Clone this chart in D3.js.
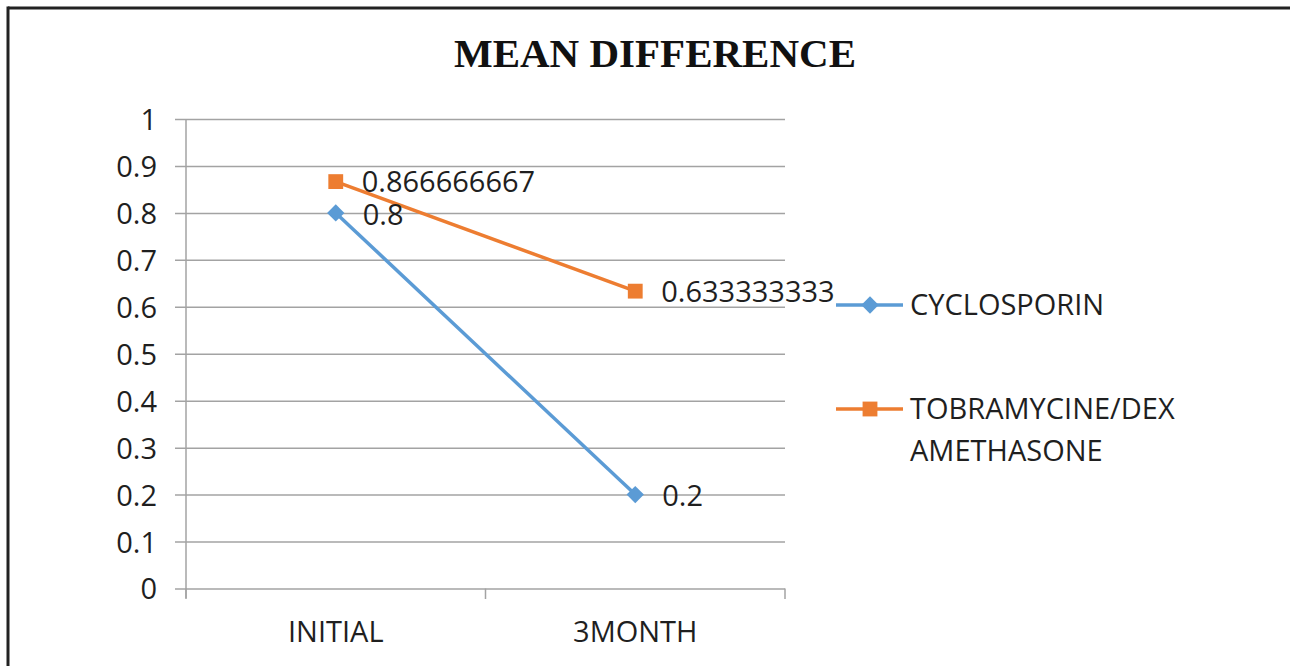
<!DOCTYPE html>
<html>
<head>
<meta charset="utf-8">
<script src="https://cdn.jsdelivr.net/npm/d3@7"></script>
<style>
  html, body { margin: 0; padding: 0; background: #fff; }
  svg { display: block; }
</style>
</head>
<body>
<svg id="chart" width="1290" height="666"></svg>
<script>
const categories = ["INITIAL", "3MONTH"];
const cyclosporin = [0.8, 0.2];
const tobramycine = [0.866666667, 0.633333333];
const cyclosporinLabels = ["0.8", "0.2"];
const tobramycineLabels = ["0.866666667", "0.633333333"];
const yTicks = [0, 0.1, 0.2, 0.3, 0.4, 0.5, 0.6, 0.7, 0.8, 0.9, 1];
const yTickLabels = ["0", "0.1", "0.2", "0.3", "0.4", "0.5", "0.6", "0.7", "0.8", "0.9", "1"];
const seriesNames = ["CYCLOSPORIN", "TOBRAMYCINE/DEX|AMETHASONE"];

const svg = d3.select("#chart");
const FONT = "'Open Sans', sans-serif";
const FS = 29;
const TXT = "#1f1f1f";
const GRID = "#a3a3a3";
const BLUE = "#5b9bd5";
const ORANGE = "#ed7d31";

// frame
svg.append("line").attr("x1", 8).attr("x2", 1290).attr("y1", 8).attr("y2", 8)
  .attr("stroke", "#222").attr("stroke-width", 3);
svg.append("line").attr("x1", 8).attr("x2", 8).attr("y1", 6.5).attr("y2", 666)
  .attr("stroke", "#222").attr("stroke-width", 3);

// title
svg.append("text").attr("x", 655).attr("y", 67).attr("text-anchor", "middle")
  .attr("font-family", "'Liberation Serif', 'Times New Roman', serif")
  .attr("font-weight", "bold").attr("font-size", 41).attr("fill", "#111")
  .text("MEAN DIFFERENCE");

const x = d3.scaleBand().domain(categories).range([186, 785]).padding(0);
const y = d3.scaleLinear().domain([0, 1]).range([588.5, 119]);
const cx = d => x(d) + x.bandwidth() / 2;

// gridlines
const yAxis = d3.axisLeft(y).tickValues(yTicks).tickSize(-(785 - 175)).tickFormat((d, i) => yTickLabels[i]).tickPadding(18);
const gy = svg.append("g").attr("transform", "translate(175,0)").call(yAxis);
gy.select(".domain").remove();
gy.selectAll(".tick line").attr("stroke", GRID).attr("stroke-width", 1.5);
gy.selectAll(".tick text").attr("font-family", FONT).attr("font-size", FS).attr("fill", TXT)
  .attr("dy", "0.36em");

// vertical axis line
svg.append("line").attr("x1", 186).attr("x2", 186).attr("y1", 119).attr("y2", 598)
  .attr("stroke", GRID).attr("stroke-width", 1.5);

// x axis
const xAxis = d3.axisBottom(x).tickSize(0).tickPadding(33);
const gx = svg.append("g").attr("transform", "translate(0,588.5)").call(xAxis);
gx.select(".domain").remove();
gx.selectAll(".tick text").attr("font-family", FONT).attr("font-size", FS).attr("fill", TXT);
svg.selectAll(".xtick").data(x.domain().concat(["end"])).enter().append("line")
  .attr("x1", (d, i) => i < categories.length ? x(d) : x.range()[1])
  .attr("x2", (d, i) => i < categories.length ? x(d) : x.range()[1])
  .attr("y1", 588.5).attr("y2", 599).attr("stroke", GRID).attr("stroke-width", 1.5);

const line = d3.line().x((d, i) => cx(categories[i])).y(d => y(d));

// series lines
svg.append("path").datum(cyclosporin).attr("d", line).attr("fill", "none")
  .attr("stroke", BLUE).attr("stroke-width", 3.5);
svg.append("path").datum(tobramycine).attr("d", line).attr("fill", "none")
  .attr("stroke", ORANGE).attr("stroke-width", 3.5);

const diamond = d3.symbol().type(d3.symbolSquare).size(150);
const square = d3.symbol().type(d3.symbolSquare).size(220);

svg.selectAll(".m1").data(cyclosporin).enter().append("path")
  .attr("d", diamond).attr("fill", BLUE)
  .attr("transform", (d, i) => `translate(${cx(categories[i])},${y(d)}) rotate(45)`);
svg.selectAll(".m2").data(tobramycine).enter().append("path")
  .attr("d", square).attr("fill", ORANGE)
  .attr("transform", (d, i) => `translate(${cx(categories[i])},${y(d)})`);

// data labels
svg.selectAll(".l1").data(cyclosporin).enter().append("text")
  .attr("x", (d, i) => cx(categories[i]) + 27).attr("y", d => y(d)).attr("dy", "0.4em")
  .attr("font-family", FONT).attr("font-size", FS).attr("fill", TXT)
  .text((d, i) => cyclosporinLabels[i]);
svg.selectAll(".l2").data(tobramycine).enter().append("text")
  .attr("x", (d, i) => cx(categories[i]) + 26).attr("y", d => y(d)).attr("dy", "0.36em")
  .attr("font-family", FONT).attr("font-size", FS).attr("fill", TXT)
  .text((d, i) => tobramycineLabels[i]);

// legend
const legend = [
  { name: seriesNames[0], color: BLUE, sym: diamond, rot: 45, y: 305 },
  { name: seriesNames[1], color: ORANGE, sym: square, rot: 0, y: 409 }
];
legend.forEach(l => {
  svg.append("line").attr("x1", 836).attr("x2", 903).attr("y1", l.y).attr("y2", l.y)
    .attr("stroke", l.color).attr("stroke-width", 3.5);
  svg.append("path").attr("d", l.sym).attr("fill", l.color)
    .attr("transform", `translate(870,${l.y}) rotate(${l.rot})`);
  const t = svg.append("text").attr("x", 910).attr("y", l.y + 10)
    .attr("font-family", FONT).attr("font-size", FS).attr("fill", TXT);
  l.name.split("|").forEach((s, k) => {
    t.append("tspan").attr("x", 910).attr("dy", k === 0 ? 0 : 42).text(s);
  });
});
</script>
</body>
</html>
